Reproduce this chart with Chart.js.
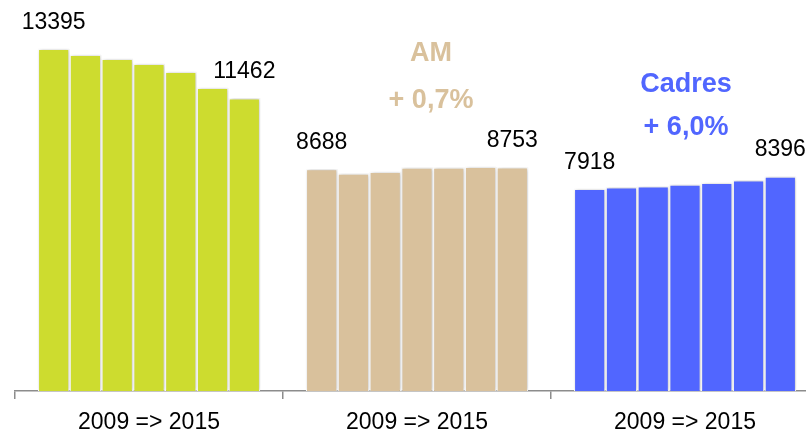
<!DOCTYPE html>
<html lang="fr">
<head>
    <meta charset="UTF-8">
    <title>Effectifs 2009 => 2015</title>
    <script src="https://cdn.jsdelivr.net/npm/chart.js"></script>
    <style>
        html, body { margin: 0; padding: 0; background: #fff; overflow: hidden; }
        #wrap { width: 830px; height: 446px; }
    </style>
</head>
<body>
<div id="wrap"><canvas id="chart"></canvas></div>
<script>
    const categories = ['2009 => 2015', '2009 => 2015', '2009 => 2015'];
    const years = ['2009', '2010', '2011', '2012', '2013', '2014', '2015'];
    const ouvriers = [13395, 13160, 13004, 12808, 12495, 11868, 11462];
    const am = [8688, 8512, 8578, 8747, 8747, 8774, 8753];
    const cadres = [7918, 7975, 8010, 8085, 8150, 8250, 8396];
    const groupColors = ['#cddc2f', '#d9c19c', '#5166ff'];
    const groupTitles = [null, ['AM', '+ 0,7%'], ['Cadres', '+ 6,0%']];

    const font = '"Liberation Sans", Arial, sans-serif';

    // one dataset per year, one bar per group
    const datasets = years.map((y, i) => ({
        label: y,
        data: [ouvriers[i], am[i], cadres[i]],
        backgroundColor: groupColors,
        borderColor: '#fff',
        borderWidth: 1.3,
        categoryPercentage: 0.83,
        barPercentage: 1
    }))

    // title placement (x offset from group centre, baselines)
    const titleLayout = [null, {dx: 14, y: [61, 108]}, {dx: 1, y: [92, 135]}];

    const labelsPlugin = {
        id: 'labelsPlugin',
        beforeDatasetsDraw(chart) {
            const ctx = chart.ctx;
            ctx.save();
            ctx.shadowColor = 'rgba(0,0,0,0.22)';
            ctx.shadowBlur = 4;
            ctx.shadowOffsetX = 1;
        },
        afterDatasetsDraw(chart) {
            const ctx = chart.ctx;
            ctx.restore();
            ctx.save();
            ctx.font = '23px ' + font;
            ctx.fillStyle = '#000';
            ctx.textAlign = 'center';
            ctx.textBaseline = 'alphabetic';
            [0, years.length - 1].forEach(di => {
                chart.getDatasetMeta(di).data.forEach((bar, i) => {
                    ctx.fillText(String(chart.data.datasets[di].data[i]), bar.x, bar.y - 20);
                })
            })
            const xs = chart.scales.x;
            ctx.font = 'bold 27px ' + font;
            groupTitles.forEach((t, i) => {
                if (!t) return;
                ctx.fillStyle = groupColors[i];
                const lay = titleLayout[i];
                t.forEach((line, k) => ctx.fillText(line, xs.getPixelForValue(i) + lay.dx, lay.y[k]));
            })
            ctx.restore();
        }
    }

    const chart = new Chart(document.getElementById('chart'), {
        type: 'bar',
        data: {labels: categories, datasets: datasets},
        options: {
            responsive: true,
            maintainAspectRatio: false,
            animation: false,
            layout: {padding: {left: 15, right: 11, top: 0, bottom: 0}},
            plugins: {legend: {display: false}, tooltip: {enabled: false}},
            scales: {
                x: {
                    offset: true,
                    border: {display: true, color: '#8c8c8c', width: 1.5},
                    grid: {display: true, drawOnChartArea: false, drawTicks: true, tickLength: 8, color: '#8c8c8c', lineWidth: 1.5},
                    ticks: {color: '#000', padding: 12, font: {family: font, size: 23, lineHeight: 1}, maxRotation: 0, autoSkip: false}
                },
                y: {display: false, min: 0, max: 15300}
            }
        },
        plugins: [labelsPlugin]
    })
</script>
</body>
</html>
